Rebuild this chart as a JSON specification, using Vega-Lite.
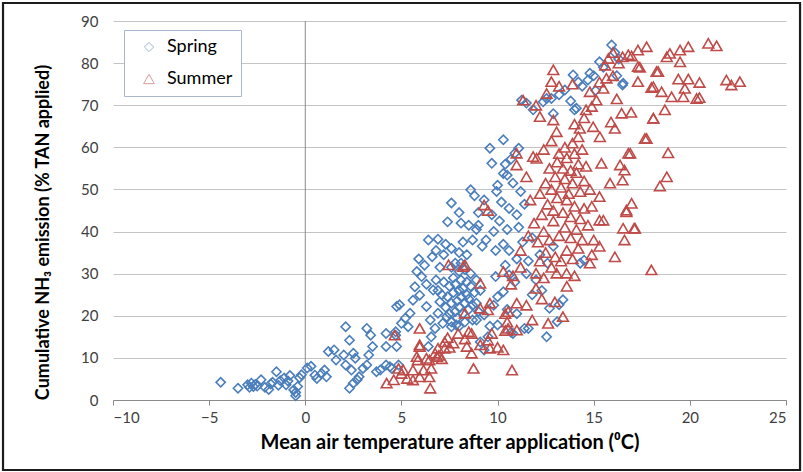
{
  "$schema": "https://vega.github.io/schema/vega-lite/v6.json",
  "width": 673,
  "height": 379,
  "autosize": "none",
  "padding": {"left": 113, "top": 21, "right": 17, "bottom": 72},
  "background": "white",
  "config": {
    "font": "Lato",
    "view": {"stroke": null},
    "axis": {"labelFont": "Lato", "titleFont": "Lato"},
    "axisX": {
      "grid": false,
      "domainColor": "#8a8a8a",
      "tickColor": "#8a8a8a",
      "tickSize": 5,
      "labelFontSize": 15,
      "labelColor": "#404040",
      "labelPadding": 5,
      "titleFontSize": 20,
      "titleFontWeight": "bold",
      "titleColor": "#000000",
      "titlePadding": 7
    },
    "axisY": {
      "grid": true,
      "gridColor": "#c4c4c4",
      "gridWidth": 1,
      "domain": false,
      "ticks": false,
      "labelFontSize": 15,
      "labelColor": "#404040",
      "labelPadding": 15,
      "titleFontSize": 18,
      "titleFontWeight": "bold",
      "titleColor": "#000000",
      "titleX": -70,
      "titleY": 211,
      "titleBaseline": "middle",
      "titleAlign": "center"
    }
  },
  "layer": [
    {
      "data": {"values": [{}]},
      "mark": {"type": "rect", "fill": null, "stroke": "#1c1c1c", "strokeWidth": 2.2, "clip": false},
      "encoding": {
        "x": {"datum": -15.72, "type": "quantitative", "title": "Mean air temperature after application (⁰C)", "scale": {"domain": [-10, 25], "nice": false, "zero": false}, "axis": {"values": [-10, -5, 0, 5, 10, 15, 20, 25]}},
        "x2": {"datum": 25.73},
        "y": {"datum": 94.27, "type": "quantitative", "title": "Cumulative NH₃ emission (% TAN applied)", "scale": {"domain": [0, 90], "nice": false, "zero": false}, "axis": {"values": [0, 10, 20, 30, 40, 50, 60, 70, 80, 90]}},
        "y2": {"datum": -16.62}
      }
    },
    {
      "data": {"values": [{}]},
      "mark": {"type": "rule", "color": "#8a8a8a", "strokeWidth": 1},
      "encoding": {
        "x": {"datum": 0, "type": "quantitative", "title": "Mean air temperature after application (⁰C)"},
        "y": {"datum": 0, "type": "quantitative", "title": "Cumulative NH₃ emission (% TAN applied)"},
        "y2": {"datum": 90}
      }
    },
    {
      "data": {
        "values": [
          {"season": "Spring", "temp": -4.4, "nh3": 4.2},
          {"season": "Spring", "temp": -3.5, "nh3": 2.8},
          {"season": "Spring", "temp": -3.0, "nh3": 3.6},
          {"season": "Spring", "temp": -2.9, "nh3": 3.0},
          {"season": "Spring", "temp": -2.8, "nh3": 4.0},
          {"season": "Spring", "temp": -2.7, "nh3": 3.2},
          {"season": "Spring", "temp": -2.6, "nh3": 3.7},
          {"season": "Spring", "temp": -2.5, "nh3": 3.3},
          {"season": "Spring", "temp": -2.3, "nh3": 4.8},
          {"season": "Spring", "temp": -2.1, "nh3": 3.0},
          {"season": "Spring", "temp": -1.9, "nh3": 2.5},
          {"season": "Spring", "temp": -1.8, "nh3": 3.8},
          {"season": "Spring", "temp": -1.7, "nh3": 4.2},
          {"season": "Spring", "temp": -1.5, "nh3": 6.7},
          {"season": "Spring", "temp": -1.4, "nh3": 3.5},
          {"season": "Spring", "temp": -1.3, "nh3": 4.6},
          {"season": "Spring", "temp": -1.1, "nh3": 5.2},
          {"season": "Spring", "temp": -1.0, "nh3": 3.6},
          {"season": "Spring", "temp": -0.9, "nh3": 4.5},
          {"season": "Spring", "temp": -0.8, "nh3": 5.8},
          {"season": "Spring", "temp": -0.6, "nh3": 2.4},
          {"season": "Spring", "temp": -0.5, "nh3": 1.0},
          {"season": "Spring", "temp": -0.5, "nh3": 1.8},
          {"season": "Spring", "temp": -0.4, "nh3": 3.2},
          {"season": "Spring", "temp": -0.3, "nh3": 5.3},
          {"season": "Spring", "temp": -0.2, "nh3": 6.0},
          {"season": "Spring", "temp": 0.1, "nh3": 7.6},
          {"season": "Spring", "temp": 0.3, "nh3": 8.0},
          {"season": "Spring", "temp": 0.5, "nh3": 5.9},
          {"season": "Spring", "temp": 0.6, "nh3": 5.1},
          {"season": "Spring", "temp": 0.85, "nh3": 6.3},
          {"season": "Spring", "temp": 1.0, "nh3": 7.1},
          {"season": "Spring", "temp": 1.1, "nh3": 5.5},
          {"season": "Spring", "temp": 1.2, "nh3": 11.5},
          {"season": "Spring", "temp": 1.5, "nh3": 11.9},
          {"season": "Spring", "temp": 1.6, "nh3": 9.5},
          {"season": "Spring", "temp": 2.0, "nh3": 10.7},
          {"season": "Spring", "temp": 2.1, "nh3": 8.3},
          {"season": "Spring", "temp": 2.1, "nh3": 17.4},
          {"season": "Spring", "temp": 2.3, "nh3": 14.2},
          {"season": "Spring", "temp": 2.3, "nh3": 2.8},
          {"season": "Spring", "temp": 2.4, "nh3": 7.1},
          {"season": "Spring", "temp": 2.5, "nh3": 11.1},
          {"season": "Spring", "temp": 2.5, "nh3": 4.0},
          {"season": "Spring", "temp": 2.6, "nh3": 9.9},
          {"season": "Spring", "temp": 2.7, "nh3": 4.8},
          {"season": "Spring", "temp": 2.8, "nh3": 5.5},
          {"season": "Spring", "temp": 3.0, "nh3": 7.5},
          {"season": "Spring", "temp": 3.2, "nh3": 8.3},
          {"season": "Spring", "temp": 3.2, "nh3": 17.0},
          {"season": "Spring", "temp": 3.3, "nh3": 10.7},
          {"season": "Spring", "temp": 3.4, "nh3": 15.4},
          {"season": "Spring", "temp": 3.5, "nh3": 12.7},
          {"season": "Spring", "temp": 3.7, "nh3": 6.7},
          {"season": "Spring", "temp": 3.9, "nh3": 7.1},
          {"season": "Spring", "temp": 4.2, "nh3": 8.3},
          {"season": "Spring", "temp": 4.2, "nh3": 12.7},
          {"season": "Spring", "temp": 4.2, "nh3": 15.8},
          {"season": "Spring", "temp": 4.4, "nh3": 7.9},
          {"season": "Spring", "temp": 4.5, "nh3": 7.5},
          {"season": "Spring", "temp": 4.7, "nh3": 15.4},
          {"season": "Spring", "temp": 4.7, "nh3": 16.2},
          {"season": "Spring", "temp": 4.75, "nh3": 12.7},
          {"season": "Spring", "temp": 4.75, "nh3": 22.2},
          {"season": "Spring", "temp": 4.85, "nh3": 8.3},
          {"season": "Spring", "temp": 4.9, "nh3": 22.6},
          {"season": "Spring", "temp": 5.0, "nh3": 18.2},
          {"season": "Spring", "temp": 5.2, "nh3": 19.4},
          {"season": "Spring", "temp": 5.35, "nh3": 17.4},
          {"season": "Spring", "temp": 5.45, "nh3": 20.6},
          {"season": "Spring", "temp": 5.6, "nh3": 23.7},
          {"season": "Spring", "temp": 5.7, "nh3": 26.9},
          {"season": "Spring", "temp": 5.95, "nh3": 24.9},
          {"season": "Spring", "temp": 6.05, "nh3": 29.3},
          {"season": "Spring", "temp": 6.3, "nh3": 22.2},
          {"season": "Spring", "temp": 6.4, "nh3": 12.7},
          {"season": "Spring", "temp": 6.5, "nh3": 19.0},
          {"season": "Spring", "temp": 6.55, "nh3": 15.0},
          {"season": "Spring", "temp": 6.65, "nh3": 26.1},
          {"season": "Spring", "temp": 6.75, "nh3": 17.0},
          {"season": "Spring", "temp": 6.8, "nh3": 28.5},
          {"season": "Spring", "temp": 6.9, "nh3": 20.6},
          {"season": "Spring", "temp": 7.0, "nh3": 23.3},
          {"season": "Spring", "temp": 7.15, "nh3": 18.2},
          {"season": "Spring", "temp": 7.35, "nh3": 19.8},
          {"season": "Spring", "temp": 7.6, "nh3": 17.4},
          {"season": "Spring", "temp": 7.85, "nh3": 17.8},
          {"season": "Spring", "temp": 6.4, "nh3": 38.0},
          {"season": "Spring", "temp": 6.9, "nh3": 38.2},
          {"season": "Spring", "temp": 7.3, "nh3": 37.0},
          {"season": "Spring", "temp": 6.8, "nh3": 35.5},
          {"season": "Spring", "temp": 7.2, "nh3": 34.5},
          {"season": "Spring", "temp": 7.6, "nh3": 36.0},
          {"season": "Spring", "temp": 8.0, "nh3": 35.0},
          {"season": "Spring", "temp": 8.2, "nh3": 37.5},
          {"season": "Spring", "temp": 7.4, "nh3": 42.3},
          {"season": "Spring", "temp": 7.6, "nh3": 46.8},
          {"season": "Spring", "temp": 8.0, "nh3": 44.5},
          {"season": "Spring", "temp": 8.6, "nh3": 49.9},
          {"season": "Spring", "temp": 8.8, "nh3": 48.5},
          {"season": "Spring", "temp": 9.3, "nh3": 47.5},
          {"season": "Spring", "temp": 8.1, "nh3": 42.0},
          {"season": "Spring", "temp": 8.5, "nh3": 41.5},
          {"season": "Spring", "temp": 8.9, "nh3": 40.5},
          {"season": "Spring", "temp": 9.0, "nh3": 44.5},
          {"season": "Spring", "temp": 5.9, "nh3": 33.5},
          {"season": "Spring", "temp": 6.2, "nh3": 32.0},
          {"season": "Spring", "temp": 6.6, "nh3": 34.0},
          {"season": "Spring", "temp": 7.0, "nh3": 31.5},
          {"season": "Spring", "temp": 7.8, "nh3": 32.5},
          {"season": "Spring", "temp": 8.4, "nh3": 34.5},
          {"season": "Spring", "temp": 9.2, "nh3": 36.5},
          {"season": "Spring", "temp": 9.0, "nh3": 41.5},
          {"season": "Spring", "temp": 9.8, "nh3": 40.0},
          {"season": "Spring", "temp": 9.4, "nh3": 38.0},
          {"season": "Spring", "temp": 9.9, "nh3": 35.5},
          {"season": "Spring", "temp": 10.3, "nh3": 37.0},
          {"season": "Spring", "temp": 10.5, "nh3": 40.5},
          {"season": "Spring", "temp": 8.7, "nh3": 38.0},
          {"season": "Spring", "temp": 5.8, "nh3": 30.5},
          {"season": "Spring", "temp": 6.3, "nh3": 27.5},
          {"season": "Spring", "temp": 6.9, "nh3": 26.0},
          {"season": "Spring", "temp": 7.3, "nh3": 22.0},
          {"season": "Spring", "temp": 7.4, "nh3": 24.5},
          {"season": "Spring", "temp": 7.5, "nh3": 27.0},
          {"season": "Spring", "temp": 7.5, "nh3": 20.5},
          {"season": "Spring", "temp": 7.6, "nh3": 23.0},
          {"season": "Spring", "temp": 7.7, "nh3": 25.5},
          {"season": "Spring", "temp": 7.7, "nh3": 29.0},
          {"season": "Spring", "temp": 7.8, "nh3": 21.0},
          {"season": "Spring", "temp": 7.8, "nh3": 27.5},
          {"season": "Spring", "temp": 7.9, "nh3": 23.5},
          {"season": "Spring", "temp": 7.9, "nh3": 19.5},
          {"season": "Spring", "temp": 8.0, "nh3": 26.0},
          {"season": "Spring", "temp": 8.0, "nh3": 30.5},
          {"season": "Spring", "temp": 8.0, "nh3": 22.0},
          {"season": "Spring", "temp": 8.1, "nh3": 24.5},
          {"season": "Spring", "temp": 8.1, "nh3": 28.5},
          {"season": "Spring", "temp": 8.2, "nh3": 20.5},
          {"season": "Spring", "temp": 8.2, "nh3": 26.5},
          {"season": "Spring", "temp": 8.3, "nh3": 23.0},
          {"season": "Spring", "temp": 8.3, "nh3": 31.0},
          {"season": "Spring", "temp": 8.3, "nh3": 18.5},
          {"season": "Spring", "temp": 8.4, "nh3": 25.0},
          {"season": "Spring", "temp": 8.4, "nh3": 28.0},
          {"season": "Spring", "temp": 8.5, "nh3": 21.5},
          {"season": "Spring", "temp": 8.5, "nh3": 24.0},
          {"season": "Spring", "temp": 8.6, "nh3": 27.0},
          {"season": "Spring", "temp": 8.6, "nh3": 30.0},
          {"season": "Spring", "temp": 8.7, "nh3": 22.5},
          {"season": "Spring", "temp": 8.7, "nh3": 19.0},
          {"season": "Spring", "temp": 8.8, "nh3": 25.5},
          {"season": "Spring", "temp": 7.6, "nh3": 31.5},
          {"season": "Spring", "temp": 8.1, "nh3": 32.5},
          {"season": "Spring", "temp": 7.2, "nh3": 28.0},
          {"season": "Spring", "temp": 7.1, "nh3": 25.0},
          {"season": "Spring", "temp": 8.9, "nh3": 28.5},
          {"season": "Spring", "temp": 8.9, "nh3": 23.0},
          {"season": "Spring", "temp": 8.0, "nh3": 17.5},
          {"season": "Spring", "temp": 7.6, "nh3": 18.5},
          {"season": "Spring", "temp": 9.0, "nh3": 21.0},
          {"season": "Spring", "temp": 9.1, "nh3": 26.0},
          {"season": "Spring", "temp": 9.3, "nh3": 20.2},
          {"season": "Spring", "temp": 8.9, "nh3": 19.0},
          {"season": "Spring", "temp": 9.1, "nh3": 13.8},
          {"season": "Spring", "temp": 9.3, "nh3": 11.9},
          {"season": "Spring", "temp": 9.5, "nh3": 15.0},
          {"season": "Spring", "temp": 9.6, "nh3": 17.5},
          {"season": "Spring", "temp": 9.9, "nh3": 29.3},
          {"season": "Spring", "temp": 10.0, "nh3": 24.5},
          {"season": "Spring", "temp": 9.8, "nh3": 22.5},
          {"season": "Spring", "temp": 10.3, "nh3": 25.7},
          {"season": "Spring", "temp": 10.6, "nh3": 29.7},
          {"season": "Spring", "temp": 10.9, "nh3": 28.0},
          {"season": "Spring", "temp": 10.0, "nh3": 17.8},
          {"season": "Spring", "temp": 10.5, "nh3": 21.5},
          {"season": "Spring", "temp": 10.8, "nh3": 15.8},
          {"season": "Spring", "temp": 11.4, "nh3": 17.0},
          {"season": "Spring", "temp": 10.7, "nh3": 16.1},
          {"season": "Spring", "temp": 11.6, "nh3": 17.0},
          {"season": "Spring", "temp": 12.55, "nh3": 15.0},
          {"season": "Spring", "temp": 12.7, "nh3": 21.8},
          {"season": "Spring", "temp": 13.2, "nh3": 22.6},
          {"season": "Spring", "temp": 13.1, "nh3": 18.6},
          {"season": "Spring", "temp": 13.4, "nh3": 23.8},
          {"season": "Spring", "temp": 12.3, "nh3": 26.0},
          {"season": "Spring", "temp": 11.8, "nh3": 25.0},
          {"season": "Spring", "temp": 11.0, "nh3": 20.5},
          {"season": "Spring", "temp": 12.0, "nh3": 28.5},
          {"season": "Spring", "temp": 11.5, "nh3": 30.0},
          {"season": "Spring", "temp": 9.6, "nh3": 59.8},
          {"season": "Spring", "temp": 9.7, "nh3": 56.2},
          {"season": "Spring", "temp": 9.95, "nh3": 49.5},
          {"season": "Spring", "temp": 10.3, "nh3": 61.8},
          {"season": "Spring", "temp": 10.3, "nh3": 53.8},
          {"season": "Spring", "temp": 10.5, "nh3": 53.4},
          {"season": "Spring", "temp": 10.9, "nh3": 58.6},
          {"season": "Spring", "temp": 11.1, "nh3": 59.8},
          {"season": "Spring", "temp": 10.7, "nh3": 57.2},
          {"season": "Spring", "temp": 10.4, "nh3": 56.0},
          {"season": "Spring", "temp": 10.0, "nh3": 51.0},
          {"season": "Spring", "temp": 10.8, "nh3": 51.5},
          {"season": "Spring", "temp": 11.2, "nh3": 49.5},
          {"season": "Spring", "temp": 10.2, "nh3": 47.0},
          {"season": "Spring", "temp": 10.6, "nh3": 45.5},
          {"season": "Spring", "temp": 9.7, "nh3": 44.0},
          {"season": "Spring", "temp": 10.1, "nh3": 42.5},
          {"season": "Spring", "temp": 11.0, "nh3": 44.0},
          {"season": "Spring", "temp": 11.4, "nh3": 46.5},
          {"season": "Spring", "temp": 11.1, "nh3": 41.0},
          {"season": "Spring", "temp": 10.6, "nh3": 35.5},
          {"season": "Spring", "temp": 11.3, "nh3": 37.5},
          {"season": "Spring", "temp": 11.8, "nh3": 38.5},
          {"season": "Spring", "temp": 11.6, "nh3": 33.0},
          {"season": "Spring", "temp": 12.2, "nh3": 34.5},
          {"season": "Spring", "temp": 12.6, "nh3": 32.5},
          {"season": "Spring", "temp": 14.3, "nh3": 32.5},
          {"season": "Spring", "temp": 14.5, "nh3": 33.2},
          {"season": "Spring", "temp": 12.9, "nh3": 36.5},
          {"season": "Spring", "temp": 10.4, "nh3": 32.0},
          {"season": "Spring", "temp": 11.0, "nh3": 33.5},
          {"season": "Spring", "temp": 11.25, "nh3": 71.2},
          {"season": "Spring", "temp": 11.5, "nh3": 70.5},
          {"season": "Spring", "temp": 11.85, "nh3": 68.9},
          {"season": "Spring", "temp": 12.37, "nh3": 70.8},
          {"season": "Spring", "temp": 12.8, "nh3": 71.6},
          {"season": "Spring", "temp": 12.55, "nh3": 71.6},
          {"season": "Spring", "temp": 13.5, "nh3": 73.6},
          {"season": "Spring", "temp": 13.2, "nh3": 72.5},
          {"season": "Spring", "temp": 13.93, "nh3": 77.2},
          {"season": "Spring", "temp": 14.1, "nh3": 69.3},
          {"season": "Spring", "temp": 14.0, "nh3": 68.9},
          {"season": "Spring", "temp": 14.4, "nh3": 74.5},
          {"season": "Spring", "temp": 14.7, "nh3": 76.0},
          {"season": "Spring", "temp": 14.8, "nh3": 77.6},
          {"season": "Spring", "temp": 15.0, "nh3": 77.0},
          {"season": "Spring", "temp": 15.3, "nh3": 80.3},
          {"season": "Spring", "temp": 15.5, "nh3": 79.0},
          {"season": "Spring", "temp": 15.93, "nh3": 84.3},
          {"season": "Spring", "temp": 16.1, "nh3": 82.5},
          {"season": "Spring", "temp": 16.3, "nh3": 81.0},
          {"season": "Spring", "temp": 16.5, "nh3": 74.8},
          {"season": "Spring", "temp": 16.53, "nh3": 75.2},
          {"season": "Spring", "temp": 16.2, "nh3": 77.0},
          {"season": "Spring", "temp": 14.2, "nh3": 75.5},
          {"season": "Spring", "temp": 13.8, "nh3": 71.0},
          {"season": "Spring", "temp": 12.9, "nh3": 68.0},
          {"season": "Spring", "temp": 15.1, "nh3": 73.5},

          {"season": "Summer", "temp": 4.23, "nh3": 4.0},
          {"season": "Summer", "temp": 4.6, "nh3": 4.8},
          {"season": "Summer", "temp": 5.0, "nh3": 6.3},
          {"season": "Summer", "temp": 5.1, "nh3": 7.1},
          {"season": "Summer", "temp": 4.85, "nh3": 7.5},
          {"season": "Summer", "temp": 5.3, "nh3": 5.1},
          {"season": "Summer", "temp": 5.6, "nh3": 4.75},
          {"season": "Summer", "temp": 5.6, "nh3": 7.1},
          {"season": "Summer", "temp": 5.95, "nh3": 5.5},
          {"season": "Summer", "temp": 6.15, "nh3": 7.1},
          {"season": "Summer", "temp": 6.5, "nh3": 2.8},
          {"season": "Summer", "temp": 6.45, "nh3": 5.5},
          {"season": "Summer", "temp": 6.55, "nh3": 7.5},
          {"season": "Summer", "temp": 5.8, "nh3": 10.3},
          {"season": "Summer", "temp": 5.95, "nh3": 13.1},
          {"season": "Summer", "temp": 6.3, "nh3": 9.9},
          {"season": "Summer", "temp": 6.45, "nh3": 9.5},
          {"season": "Summer", "temp": 6.75, "nh3": 11.1},
          {"season": "Summer", "temp": 6.95, "nh3": 10.6},
          {"season": "Summer", "temp": 7.1, "nh3": 9.8},
          {"season": "Summer", "temp": 6.9, "nh3": 12.3},
          {"season": "Summer", "temp": 7.25, "nh3": 13.8},
          {"season": "Summer", "temp": 7.5, "nh3": 12.5},
          {"season": "Summer", "temp": 7.7, "nh3": 13.5},
          {"season": "Summer", "temp": 7.4, "nh3": 14.8},
          {"season": "Summer", "temp": 4.65, "nh3": 15.4},
          {"season": "Summer", "temp": 5.95, "nh3": 17.0},
          {"season": "Summer", "temp": 5.95, "nh3": 12.7},
          {"season": "Summer", "temp": 5.85, "nh3": 9.5},
          {"season": "Summer", "temp": 6.85, "nh3": 10.3},
          {"season": "Summer", "temp": 7.25, "nh3": 12.3},
          {"season": "Summer", "temp": 8.3, "nh3": 20.6},
          {"season": "Summer", "temp": 7.95, "nh3": 15.8},
          {"season": "Summer", "temp": 8.3, "nh3": 14.5},
          {"season": "Summer", "temp": 8.5, "nh3": 16.2},
          {"season": "Summer", "temp": 8.65, "nh3": 15.8},
          {"season": "Summer", "temp": 8.4, "nh3": 12.7},
          {"season": "Summer", "temp": 8.65, "nh3": 11.1},
          {"season": "Summer", "temp": 8.75, "nh3": 7.5},
          {"season": "Summer", "temp": 9.1, "nh3": 13.1},
          {"season": "Summer", "temp": 9.5, "nh3": 14.2},
          {"season": "Summer", "temp": 9.6, "nh3": 12.3},
          {"season": "Summer", "temp": 10.0, "nh3": 12.5},
          {"season": "Summer", "temp": 10.3, "nh3": 11.9},
          {"season": "Summer", "temp": 9.7, "nh3": 15.8},
          {"season": "Summer", "temp": 10.75, "nh3": 7.1},
          {"season": "Summer", "temp": 10.4, "nh3": 16.5},
          {"season": "Summer", "temp": 10.5, "nh3": 18.5},
          {"season": "Summer", "temp": 10.4, "nh3": 20.5},
          {"season": "Summer", "temp": 9.6, "nh3": 23.0},
          {"season": "Summer", "temp": 9.1, "nh3": 21.8},
          {"season": "Summer", "temp": 9.5, "nh3": 21.4},
          {"season": "Summer", "temp": 9.1, "nh3": 27.7},
          {"season": "Summer", "temp": 10.55, "nh3": 21.0},
          {"season": "Summer", "temp": 10.55, "nh3": 17.0},
          {"season": "Summer", "temp": 11.0, "nh3": 16.6},
          {"season": "Summer", "temp": 11.0, "nh3": 23.0},
          {"season": "Summer", "temp": 11.8, "nh3": 19.0},
          {"season": "Summer", "temp": 11.5, "nh3": 22.5},
          {"season": "Summer", "temp": 7.45, "nh3": 32.1},
          {"season": "Summer", "temp": 8.3, "nh3": 32.1},
          {"season": "Summer", "temp": 8.2, "nh3": 31.7},
          {"season": "Summer", "temp": 9.3, "nh3": 46.3},
          {"season": "Summer", "temp": 9.5, "nh3": 45.0},
          {"season": "Summer", "temp": 10.3, "nh3": 30.5},
          {"season": "Summer", "temp": 10.8, "nh3": 29.5},
          {"season": "Summer", "temp": 11.2, "nh3": 31.5},
          {"season": "Summer", "temp": 10.7, "nh3": 27.5},
          {"season": "Summer", "temp": 12.0, "nh3": 30.1},
          {"season": "Summer", "temp": 12.4, "nh3": 29.0},
          {"season": "Summer", "temp": 12.98, "nh3": 23.3},
          {"season": "Summer", "temp": 13.07, "nh3": 30.1},
          {"season": "Summer", "temp": 13.4, "nh3": 19.8},
          {"season": "Summer", "temp": 12.63, "nh3": 18.2},
          {"season": "Summer", "temp": 13.59, "nh3": 30.1},
          {"season": "Summer", "temp": 12.2, "nh3": 33.0},
          {"season": "Summer", "temp": 12.5, "nh3": 35.0},
          {"season": "Summer", "temp": 12.8, "nh3": 31.5},
          {"season": "Summer", "temp": 13.0, "nh3": 34.0},
          {"season": "Summer", "temp": 13.3, "nh3": 33.0},
          {"season": "Summer", "temp": 13.6, "nh3": 35.5},
          {"season": "Summer", "temp": 13.9, "nh3": 33.5},
          {"season": "Summer", "temp": 14.2, "nh3": 36.0},
          {"season": "Summer", "temp": 12.1, "nh3": 37.5},
          {"season": "Summer", "temp": 12.4, "nh3": 40.0},
          {"season": "Summer", "temp": 12.7, "nh3": 38.0},
          {"season": "Summer", "temp": 12.9, "nh3": 42.5},
          {"season": "Summer", "temp": 13.2, "nh3": 39.0},
          {"season": "Summer", "temp": 13.5, "nh3": 41.0},
          {"season": "Summer", "temp": 13.8, "nh3": 38.5},
          {"season": "Summer", "temp": 14.1, "nh3": 40.5},
          {"season": "Summer", "temp": 14.4, "nh3": 38.0},
          {"season": "Summer", "temp": 12.3, "nh3": 44.0},
          {"season": "Summer", "temp": 12.6, "nh3": 46.5},
          {"season": "Summer", "temp": 12.9, "nh3": 45.0},
          {"season": "Summer", "temp": 13.1, "nh3": 48.0},
          {"season": "Summer", "temp": 13.4, "nh3": 44.5},
          {"season": "Summer", "temp": 13.6, "nh3": 47.5},
          {"season": "Summer", "temp": 13.8, "nh3": 43.5},
          {"season": "Summer", "temp": 14.0, "nh3": 46.0},
          {"season": "Summer", "temp": 14.3, "nh3": 43.0},
          {"season": "Summer", "temp": 14.5, "nh3": 45.5},
          {"season": "Summer", "temp": 12.2, "nh3": 49.0},
          {"season": "Summer", "temp": 12.5, "nh3": 51.5},
          {"season": "Summer", "temp": 12.8, "nh3": 50.0},
          {"season": "Summer", "temp": 13.0, "nh3": 53.0},
          {"season": "Summer", "temp": 13.3, "nh3": 50.5},
          {"season": "Summer", "temp": 13.5, "nh3": 52.5},
          {"season": "Summer", "temp": 13.7, "nh3": 49.0},
          {"season": "Summer", "temp": 13.9, "nh3": 51.5},
          {"season": "Summer", "temp": 14.1, "nh3": 54.0},
          {"season": "Summer", "temp": 14.3, "nh3": 49.5},
          {"season": "Summer", "temp": 14.5, "nh3": 52.0},
          {"season": "Summer", "temp": 12.7, "nh3": 55.0},
          {"season": "Summer", "temp": 13.1, "nh3": 56.5},
          {"season": "Summer", "temp": 13.4, "nh3": 55.0},
          {"season": "Summer", "temp": 13.6, "nh3": 57.5},
          {"season": "Summer", "temp": 13.8, "nh3": 54.5},
          {"season": "Summer", "temp": 14.0, "nh3": 58.5},
          {"season": "Summer", "temp": 14.2, "nh3": 56.0},
          {"season": "Summer", "temp": 14.4, "nh3": 59.5},
          {"season": "Summer", "temp": 13.9, "nh3": 61.0},
          {"season": "Summer", "temp": 14.2, "nh3": 62.5},
          {"season": "Summer", "temp": 13.5, "nh3": 60.0},
          {"season": "Summer", "temp": 13.2, "nh3": 58.5},
          {"season": "Summer", "temp": 14.6, "nh3": 55.5},
          {"season": "Summer", "temp": 14.8, "nh3": 50.0},
          {"season": "Summer", "temp": 14.9, "nh3": 46.0},
          {"season": "Summer", "temp": 14.7, "nh3": 41.5},
          {"season": "Summer", "temp": 15.0, "nh3": 38.0},
          {"season": "Summer", "temp": 14.8, "nh3": 32.5},
          {"season": "Summer", "temp": 14.9, "nh3": 34.5},
          {"season": "Summer", "temp": 15.3, "nh3": 42.7},
          {"season": "Summer", "temp": 15.85, "nh3": 51.5},
          {"season": "Summer", "temp": 15.4, "nh3": 56.2},
          {"season": "Summer", "temp": 15.3, "nh3": 48.3},
          {"season": "Summer", "temp": 15.5, "nh3": 42.7},
          {"season": "Summer", "temp": 16.1, "nh3": 34.0},
          {"season": "Summer", "temp": 16.6, "nh3": 38.0},
          {"season": "Summer", "temp": 16.7, "nh3": 44.7},
          {"season": "Summer", "temp": 16.5, "nh3": 52.2},
          {"season": "Summer", "temp": 16.8, "nh3": 58.6},
          {"season": "Summer", "temp": 17.1, "nh3": 40.8},
          {"season": "Summer", "temp": 16.37, "nh3": 55.8},
          {"season": "Summer", "temp": 16.6, "nh3": 54.6},
          {"season": "Summer", "temp": 16.7, "nh3": 45.1},
          {"season": "Summer", "temp": 16.53, "nh3": 40.8},
          {"season": "Summer", "temp": 18.0, "nh3": 30.9},
          {"season": "Summer", "temp": 11.9, "nh3": 42.0},
          {"season": "Summer", "temp": 11.7, "nh3": 47.5},
          {"season": "Summer", "temp": 11.5, "nh3": 53.0},
          {"season": "Summer", "temp": 11.2, "nh3": 35.5},
          {"season": "Summer", "temp": 11.6, "nh3": 39.0},
          {"season": "Summer", "temp": 12.0, "nh3": 26.5},
          {"season": "Summer", "temp": 12.3, "nh3": 24.0},
          {"season": "Summer", "temp": 13.6, "nh3": 27.0},
          {"season": "Summer", "temp": 14.0, "nh3": 29.5},
          {"season": "Summer", "temp": 15.3, "nh3": 36.5},
          {"season": "Summer", "temp": 10.99, "nh3": 58.6},
          {"season": "Summer", "temp": 10.99, "nh3": 55.8},
          {"season": "Summer", "temp": 11.85, "nh3": 57.8},
          {"season": "Summer", "temp": 12.03, "nh3": 57.4},
          {"season": "Summer", "temp": 12.4, "nh3": 59.5},
          {"season": "Summer", "temp": 12.8, "nh3": 61.5},
          {"season": "Summer", "temp": 11.33, "nh3": 71.2},
          {"season": "Summer", "temp": 12.0, "nh3": 70.0},
          {"season": "Summer", "temp": 12.2, "nh3": 67.3},
          {"season": "Summer", "temp": 12.9, "nh3": 66.5},
          {"season": "Summer", "temp": 13.07, "nh3": 63.7},
          {"season": "Summer", "temp": 12.55, "nh3": 72.8},
          {"season": "Summer", "temp": 12.8, "nh3": 75.6},
          {"season": "Summer", "temp": 12.9, "nh3": 78.4},
          {"season": "Summer", "temp": 13.2, "nh3": 74.5},
          {"season": "Summer", "temp": 13.9, "nh3": 75.0},
          {"season": "Summer", "temp": 14.28, "nh3": 64.5},
          {"season": "Summer", "temp": 14.0, "nh3": 65.5},
          {"season": "Summer", "temp": 14.5, "nh3": 67.0},
          {"season": "Summer", "temp": 14.97, "nh3": 64.9},
          {"season": "Summer", "temp": 15.32, "nh3": 62.5},
          {"season": "Summer", "temp": 16.1, "nh3": 64.5},
          {"season": "Summer", "temp": 16.45, "nh3": 68.1},
          {"season": "Summer", "temp": 16.95, "nh3": 68.3},
          {"season": "Summer", "temp": 18.1, "nh3": 66.9},
          {"season": "Summer", "temp": 18.7, "nh3": 68.9},
          {"season": "Summer", "temp": 17.75, "nh3": 62.1},
          {"season": "Summer", "temp": 16.9, "nh3": 58.6},
          {"season": "Summer", "temp": 18.87, "nh3": 58.7},
          {"season": "Summer", "temp": 18.8, "nh3": 53.0},
          {"season": "Summer", "temp": 18.44, "nh3": 50.8},
          {"season": "Summer", "temp": 14.8, "nh3": 73.2},
          {"season": "Summer", "temp": 15.14, "nh3": 71.2},
          {"season": "Summer", "temp": 14.9, "nh3": 69.7},
          {"season": "Summer", "temp": 14.6, "nh3": 68.9},
          {"season": "Summer", "temp": 15.66, "nh3": 76.4},
          {"season": "Summer", "temp": 15.3, "nh3": 75.5},
          {"season": "Summer", "temp": 15.5, "nh3": 74.0},
          {"season": "Summer", "temp": 16.0, "nh3": 77.0},
          {"season": "Summer", "temp": 15.76, "nh3": 81.1},
          {"season": "Summer", "temp": 15.6, "nh3": 79.5},
          {"season": "Summer", "temp": 16.0, "nh3": 82.5},
          {"season": "Summer", "temp": 16.3, "nh3": 80.0},
          {"season": "Summer", "temp": 16.5, "nh3": 81.5},
          {"season": "Summer", "temp": 16.8, "nh3": 82.0},
          {"season": "Summer", "temp": 16.97, "nh3": 81.7},
          {"season": "Summer", "temp": 17.3, "nh3": 83.1},
          {"season": "Summer", "temp": 17.75, "nh3": 83.9},
          {"season": "Summer", "temp": 17.4, "nh3": 79.0},
          {"season": "Summer", "temp": 18.35, "nh3": 78.0},
          {"season": "Summer", "temp": 17.3, "nh3": 75.6},
          {"season": "Summer", "temp": 18.0, "nh3": 74.2},
          {"season": "Summer", "temp": 18.1, "nh3": 74.4},
          {"season": "Summer", "temp": 18.53, "nh3": 73.2},
          {"season": "Summer", "temp": 18.96, "nh3": 82.3},
          {"season": "Summer", "temp": 18.8, "nh3": 81.5},
          {"season": "Summer", "temp": 19.49, "nh3": 83.1},
          {"season": "Summer", "temp": 19.92, "nh3": 83.9},
          {"season": "Summer", "temp": 19.49, "nh3": 80.3},
          {"season": "Summer", "temp": 20.96, "nh3": 84.7},
          {"season": "Summer", "temp": 21.39, "nh3": 84.1},
          {"season": "Summer", "temp": 19.4, "nh3": 76.2},
          {"season": "Summer", "temp": 19.92, "nh3": 76.2},
          {"season": "Summer", "temp": 20.5, "nh3": 75.4},
          {"season": "Summer", "temp": 19.05, "nh3": 72.0},
          {"season": "Summer", "temp": 19.74, "nh3": 74.0},
          {"season": "Summer", "temp": 19.66, "nh3": 72.0},
          {"season": "Summer", "temp": 20.35, "nh3": 71.6},
          {"season": "Summer", "temp": 20.5, "nh3": 71.8},
          {"season": "Summer", "temp": 21.9, "nh3": 76.0},
          {"season": "Summer", "temp": 22.16, "nh3": 74.8},
          {"season": "Summer", "temp": 22.6, "nh3": 75.6},
          {"season": "Summer", "temp": 18.1, "nh3": 66.9},
          {"season": "Summer", "temp": 17.66, "nh3": 62.1},
          {"season": "Summer", "temp": 16.97, "nh3": 46.7},
          {"season": "Summer", "temp": 17.15, "nh3": 40.8},
          {"season": "Summer", "temp": 17.3, "nh3": 79.2},
          {"season": "Summer", "temp": 18.27, "nh3": 78.0},
          {"season": "Summer", "temp": 16.2, "nh3": 71.5},
          {"season": "Summer", "temp": 15.9, "nh3": 66.0}
        ]
      },
      "mark": {"type": "point", "filled": false, "strokeWidth": 1.6, "opacity": 1},
      "encoding": {
        "x": {"field": "temp", "type": "quantitative", "title": "Mean air temperature after application (⁰C)"},
        "y": {"field": "nh3", "type": "quantitative", "title": "Cumulative NH₃ emission (% TAN applied)"},
        "color": {
          "field": "season",
          "type": "nominal",
          "scale": {"domain": ["Spring", "Summer"], "range": ["#4a7ebb", "#be4b48"]},
          "legend": {
            "title": null,
            "orient": "none",
            "legendX": 11,
            "legendY": 9,
            "fillColor": "white",
            "strokeColor": "#a9b7cc",
            "padding": 8,
            "labelFontSize": 18,
            "labelColor": "#000000",
            "labelOffset": 9,
            "rowPadding": 14,
            "symbolSize": 30,
            "symbolStrokeWidth": 1,
            "symbolOpacity": 0.55,
            "symbolOffset": 8
          }
        },
        "shape": {
          "field": "season",
          "type": "nominal",
          "scale": {"domain": ["Spring", "Summer"], "range": ["diamond", "triangle-up"]}
        },
        "size": {
          "field": "season",
          "type": "nominal",
          "scale": {"domain": ["Spring", "Summer"], "range": [85, 115]},
          "legend": null
        }
      }
    }
  ]
}
